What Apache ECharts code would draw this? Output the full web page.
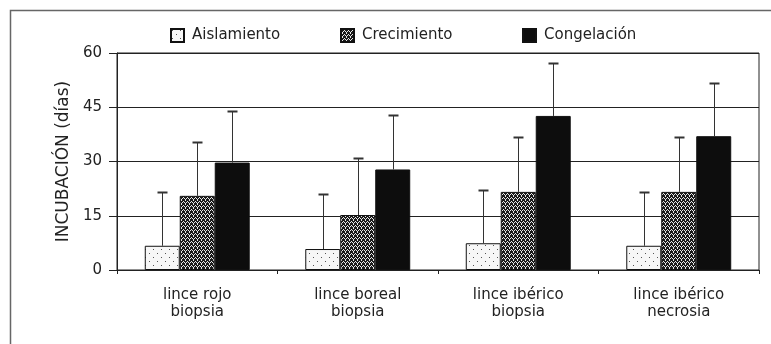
<!DOCTYPE html>
<html>
<head>
<meta charset="utf-8">
<script src="https://cdn.jsdelivr.net/npm/echarts@6/dist/echarts.min.js"></script>
<style>
  html, body { margin: 0; padding: 0; background: #fff; }
  #chart { width: 771px; height: 344px; }
</style>
</head>
<body>
<div id="chart"></div>
<script>
// Categories (two-line labels)
const categories = ['lince rojo\nbiopsia', 'lince boreal\nbiopsia', 'lince ibérico\nbiopsia', 'lince ibérico\nnecrosia'];
const seriesNames = ['Aislamiento', 'Crecimiento', 'Congelación'];

// Mean incubation (days)
const aislamiento = [6.7, 5.8, 7.4, 6.7];
const crecimiento = [20.5, 15.2, 21.6, 21.6];
const congelacion = [29.7, 27.8, 42.6, 37.0];

// Standard deviations (drawn upward only)
const aislamientoSD = [14.9, 15.2, 14.7, 14.9];
const crecimientoSD = [14.8, 15.7, 15.2, 15.2];
const congelacionSD = [14.4, 15.1, 14.7, 14.8];

const yTicks = [0, 15, 30, 45, 60];

// Fill patterns
function makePattern(size, draw) {
  const c = document.createElement('canvas');
  c.width = size; c.height = size;
  const ctx = c.getContext('2d');
  draw(ctx);
  return { image: c, repeat: 'repeat' };
}
const dotted = makePattern(8, ctx => {
  ctx.fillStyle = '#f7f7f7'; ctx.fillRect(0, 0, 8, 8);
  ctx.fillStyle = '#555';
  ctx.fillRect(1, 1, 1, 1);
  ctx.fillRect(5, 5, 1, 1);
});
const checkered = makePattern(4, ctx => {
  ctx.fillStyle = '#1a1a1a'; ctx.fillRect(0, 0, 4, 4);
  ctx.fillStyle = '#e8e8e8';
  ctx.fillRect(1, 0, 1, 1);
  ctx.fillRect(3, 1, 1, 1);
  ctx.fillRect(0, 2, 1, 1);
  ctx.fillRect(2, 2, 1, 1);
  ctx.fillRect(1, 3, 1, 1);
});
const solid = '#0d0d0d';

const fills = [dotted, checkered, solid];
const values = [aislamiento, crecimiento, congelacion];
const sds = [aislamientoSD, crecimientoSD, congelacionSD];

const CAT_GAP = 0.346; // fraction of band left empty
const FONT = '"DejaVu Sans", Verdana, sans-serif';

const barSeries = seriesNames.map((name, k) => ({
  name,
  type: 'bar',
  data: values[k],
  barGap: '0%',
  barCategoryGap: (CAT_GAP * 100) + '%',
  itemStyle: { color: fills[k], borderColor: '#111', borderWidth: 1 },
  z: 2
}));

const errSeries = seriesNames.map((name, k) => ({
  type: 'custom',
  name: name + ' SD',
  silent: true,
  z: 3,
  data: values[k].map((v, i) => [i, v, v + sds[k][i]]),
  renderItem: function (params, api) {
    const i = api.value(0);
    const band = api.size([1, 0])[0];
    const bw = band * (1 - CAT_GAP) / 3;
    const off = (k - 1) * bw;
    const base = api.coord([i, api.value(1)]);
    const top = api.coord([i, api.value(2)]);
    const x = Math.round(base[0] + off) + 0.5;
    const yb = base[1];
    const yt = Math.round(top[1]) + 0.5;
    const cap = 5;
    const style = { stroke: '#333', lineWidth: 1, fill: null };
    return {
      type: 'group',
      children: [
        { type: 'line', shape: { x1: x, y1: yb, x2: x, y2: yt }, style },
        { type: 'line', shape: { x1: x - cap, y1: yt, x2: x + cap, y2: yt }, style: { stroke: '#333', lineWidth: 2 } }
      ]
    };
  }
}));

const chart = echarts.init(document.getElementById('chart'), null, { renderer: 'canvas' });

const legendPos = [170, 340, 522];
chart.setOption({
  animation: false,
  backgroundColor: '#fff',
  textStyle: { fontFamily: FONT },
  graphic: [{
    type: 'rect',
    shape: { x: 10.5, y: 10.5, width: 780, height: 350 },
    style: { fill: null, stroke: '#666', lineWidth: 1.5 },
    silent: true
  }],
  legend: seriesNames.map((n, k) => ({
    data: [n],
    left: legendPos[k],
    top: 28,
    padding: 0,
    itemWidth: 13,
    itemHeight: 13,
    icon: 'rect',
    textStyle: { fontFamily: FONT, fontSize: 15, color: '#222', padding: [0, 0, 0, 3] },
    selectedMode: false
  })),
  grid: { left: 117, right: 12, top: 53, bottom: 74, show: true, borderColor: '#222', borderWidth: 1 },
  xAxis: {
    type: 'category',
    data: categories,
    axisLine: { lineStyle: { color: '#222', width: 1 } },
    axisTick: { show: true, length: 4, lineStyle: { color: '#222' } },
    axisLabel: { fontFamily: FONT, fontSize: 15, color: '#222', margin: 16, lineHeight: 17.5 }
  },
  yAxis: {
    type: 'value',
    min: yTicks[0],
    max: yTicks[yTicks.length - 1],
    interval: 15,
    name: 'INCUBACIÓN (días)',
    nameLocation: 'middle',
    nameGap: 44,
    nameTextStyle: { fontFamily: FONT, fontSize: 17, color: '#222' },
    axisLine: { show: true, lineStyle: { color: '#222', width: 1 } },
    axisTick: { show: true, length: 8, lineStyle: { color: '#222' } },
    axisLabel: { fontFamily: FONT, fontSize: 15, color: '#222', margin: 15 },
    splitLine: { show: true, lineStyle: { color: '#222', width: 1 } }
  },
  series: [...barSeries, ...errSeries]
});
</script>
</body>
</html>
